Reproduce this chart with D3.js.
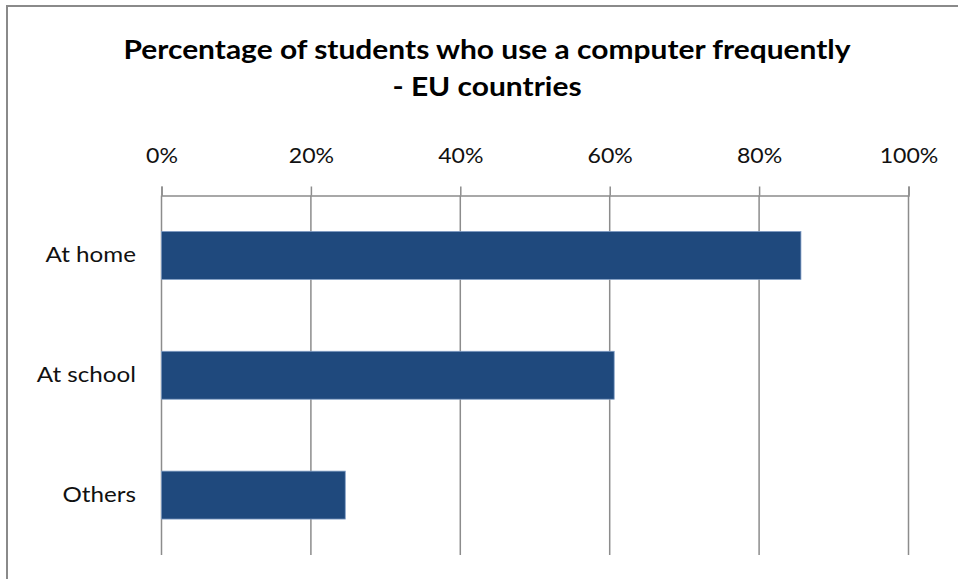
<!DOCTYPE html>
<html>
<head>
<meta charset="utf-8">
<script src="https://cdn.jsdelivr.net/npm/d3@7"></script>
<style>
  html, body { margin: 0; padding: 0; background: #ffffff; }
  svg { display: block; }
</style>
</head>
<body>
<div id="chart"></div>
<script>
// Share of students using a computer frequently, by place (EU countries)
const categories = ["At home", "At school", "Others"];
const values = [0.856, 0.606, 0.246];
const tickValues = [0, 0.2, 0.4, 0.6, 0.8, 1.0];
const titleLines = ["Percentage of students who use a computer frequently", "- EU countries"];

const W = 958, H = 579;
const margin = { top: 195.5, left: 161.5, right: W - 908.5, bottom: H - 555 };
const fontFamily = "Lato, 'Open Sans', 'Noto Sans', sans-serif";
const stretch = 1.1;      // horizontal widening of the tick lettering
const titleStretch = 1.13;
const labelStretch = 1.1;

const svg = d3.select("#chart").append("svg")
  .attr("width", W).attr("height", H);

svg.append("rect").attr("width", W).attr("height", H).attr("fill", "#ffffff");

// Chart frame (left and top edges are visible)
svg.append("path")
  .attr("d", `M7,${H} L7,6 L${W},6`)
  .attr("fill", "none")
  .attr("stroke", "#8a8a8a")
  .attr("stroke-width", 2);

const x = d3.scaleLinear().domain([0, 1]).range([margin.left, W - margin.right]);
const y = d3.scaleBand().domain(categories)
  .range([margin.top, H - margin.bottom])
  .paddingInner(0.6).paddingOuter(0.3);

// Title
const title = svg.append("g").attr("font-family", fontFamily)
  .attr("font-weight", 700).attr("font-size", 26.5).attr("fill", "#000");
titleLines.forEach((line, i) => {
  title.append("text")
    .attr("text-anchor", "middle")
    .attr("transform", `translate(487,${59 + i * 37}) scale(${titleStretch},1)`)
    .text(line);
});

// Vertical gridlines
svg.append("g")
  .selectAll("line")
  .data(tickValues)
  .join("line")
  .attr("x1", d => x(d)).attr("x2", d => x(d))
  .attr("y1", margin.top).attr("y2", H - margin.bottom)
  .attr("stroke", "#8c8c8c").attr("stroke-width", 1.5);

// Top value axis
const xAxis = svg.append("g")
  .attr("transform", `translate(0,${margin.top})`)
  .call(d3.axisTop(x).tickValues(tickValues).tickFormat(d3.format(".0%"))
    .tickSize(9).tickPadding(24));
xAxis.select(".domain").attr("stroke", "#8c8c8c").attr("stroke-width", 1.5);
xAxis.selectAll(".tick line").attr("stroke", "#8c8c8c").attr("stroke-width", 1.5);
xAxis.selectAll(".tick text")
  .attr("font-family", fontFamily).attr("font-size", 21).attr("fill", "#111")
  .attr("dy", 0)
  .attr("transform", `scale(${stretch},1)`);

// Bars
svg.append("g")
  .selectAll("rect")
  .data(categories.map((c, i) => ({ c, v: values[i] })))
  .join("rect")
  .attr("x", x(0))
  .attr("y", d => y(d.c))
  .attr("width", d => x(d.v) - x(0))
  .attr("height", y.bandwidth())
  .attr("fill", "#1f497d")
  .attr("stroke", "#7f9cc4").attr("stroke-width", 0.8);

// Category axis on the left
const yAxis = svg.append("g")
  .attr("transform", `translate(${margin.left},0)`)
  .call(d3.axisLeft(y).tickSize(0).tickPadding(0));
yAxis.select(".domain").remove();
yAxis.selectAll(".tick text")
  .attr("font-family", fontFamily).attr("font-size", 22).attr("fill", "#111")
  .attr("x", 0)
  .attr("transform", `translate(-25.5,0) scale(${labelStretch},1)`);
</script>
</body>
</html>
